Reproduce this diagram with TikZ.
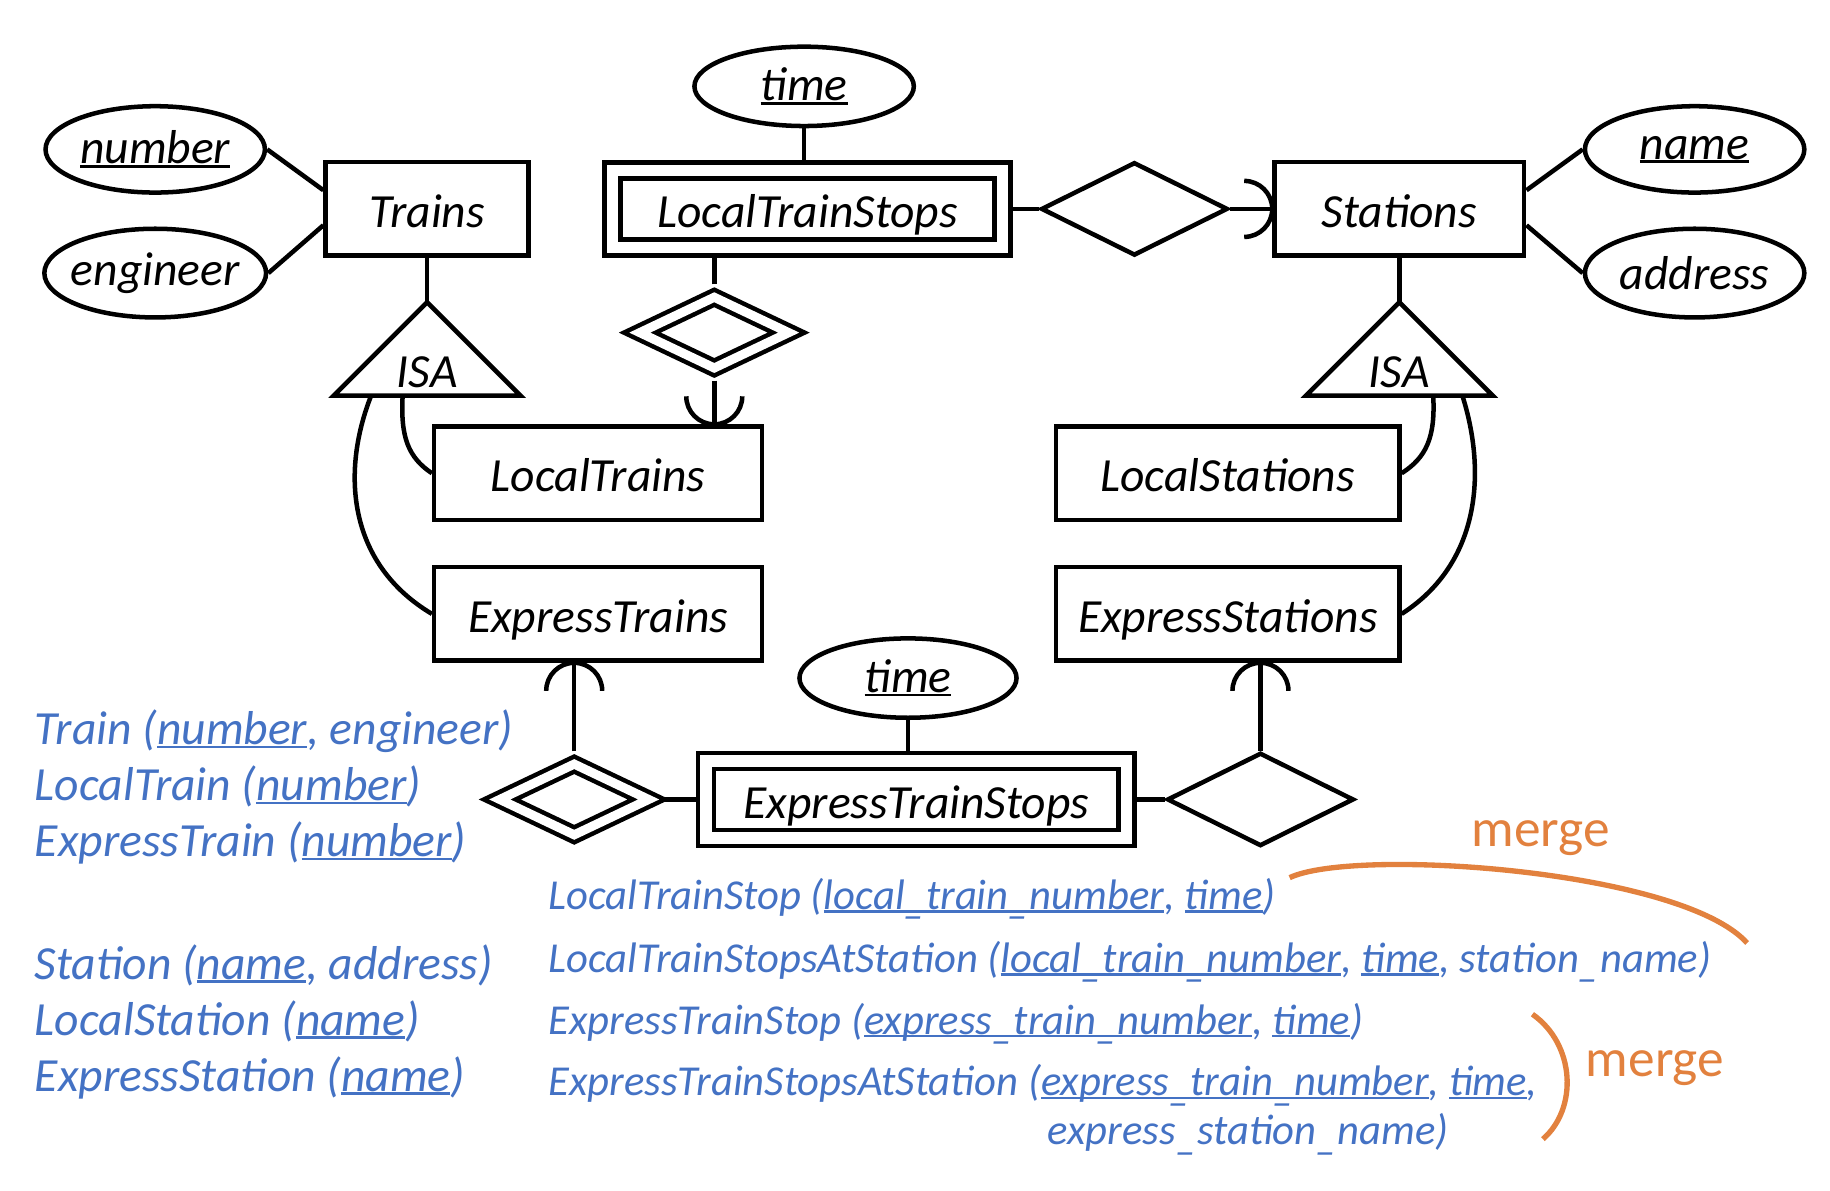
\documentclass[tikz,border=0pt]{standalone}
\usepackage{fontspec}
\setmainfont{Carlito}
\usetikzlibrary{shapes.geometric, calc}
\definecolor{relblue}{RGB}{68,114,196}
\definecolor{mergeorange}{RGB}{226,129,62}
\newcommand{\keyattr}[1]{\setbox0=\hbox{#1}\rlap{\rule[-0.08em]{\wd0}{0.055em}}\box0}
\newcommand{\lowbar}{\raisebox{-0.1em}{\_}}

\begin{document}
\begin{tikzpicture}[x=1mm,y=1mm,line width=1.1pt,
  erfont/.style={font=\fontsize{11.6}{14}\selectfont\itshape},
  entity/.style={draw,rectangle,erfont,text height=9.1pt,text depth=0pt,minimum height=8mm,inner sep=0pt},
  weakentity/.style={draw,rectangle,erfont,text height=9.1pt,text depth=0pt,double,double distance=2.8pt,minimum height=6.6mm,inner sep=0pt,outer sep=2.5pt},
  attribute/.style={draw,ellipse,erfont,minimum width=18.8mm,minimum height=7.4mm,inner xsep=-2.5mm,inner ysep=0pt},
  relation/.style={draw,diamond,minimum width=16mm,minimum height=8mm,inner sep=0pt},
  weakrelation/.style={draw,diamond,double,double distance=2.2pt,minimum width=13.4mm,minimum height=6.7mm,inner sep=0pt,outer sep=2.2pt},
  schema/.style={anchor=base west,inner sep=0pt,text=relblue,font=\fontsize{11.6}{13}\selectfont\itshape},
  stopschema/.style={anchor=base west,inner sep=0pt,text=relblue,font=\fontsize{10.4}{12}\selectfont\itshape},
  mergelabel/.style={text=mergeorange,font=\fontsize{13}{15}\selectfont}
]
\useasboundingbox (0,0) rectangle (156.8,-102);

% trains
\node[attribute] (number) at (13.3,-12.8) {\keyattr{number}};
\node[attribute,minimum width=19mm,minimum height=7.6mm] (engineer) at (13.3,-23.4) {engineer};
\node[entity,minimum width=17.4mm] (trains) at (36.6,-17.9) {Trains};
\draw (number.east) -- ([yshift=1.6mm]trains.west);
\draw (engineer.east) -- ([yshift=-1.4mm]trains.west);

% local train stops
\node[attribute,minimum height=6.8mm] (ltime) at (68.9,-7.4) {\keyattr{time}};
\node[weakentity,minimum width=33.4mm] (lts) at (69.2,-17.9) {LocalTrainStops};
\node[relation] (strel) at (97.2,-17.9) {};
\draw (ltime.south) -- (ltime.south |- lts.north);
\draw (lts.east) -- (strel.west);

% stations
\node[entity,minimum width=21.4mm] (stations) at (119.9,-17.9) {Stations};
\node[attribute] (sname) at (145.2,-12.8) {\keyattr{name}};
\node[attribute,minimum height=7.6mm] (saddr) at (145.2,-23.4) {address};
\draw ([yshift=1.6mm]stations.east) -- (sname.west);
\draw ([yshift=-1.4mm]stations.east) -- (saddr.west);
\draw (strel.east) -- (stations.west);
\draw ($(stations.west)+(-2.4,2.4)$) arc[start angle=90,end angle=-90,radius=2.4mm];

% ISA
\coordinate (isat) at (36.6,-25.9);
\coordinate (isas) at (119.9,-25.9);
\draw (isat) -- ++(-8,-8) -- ++(16,0) -- cycle;
\draw (isas) -- ++(-8,-8) -- ++(16,0) -- cycle;
\node[erfont] (isattext) at (36.6,-31.9) {ISA};
\node[erfont] (isastext) at (119.9,-31.9) {ISA};
\draw (trains.south) -- (isat);
\draw (stations.south) -- (isas);

\node[entity,minimum width=28.1mm] (localtrains) at (51.25,-40.55) {LocalTrains};
\node[entity,minimum width=28.1mm] (expresstrains) at (51.25,-52.6) {ExpressTrains};
\node[entity,minimum width=29.4mm] (localstations) at (105.2,-40.55) {LocalStations};
\node[entity,minimum width=29.4mm] (expressstations) at (105.2,-52.6) {ExpressStations};

\coordinate (isatin) at (34.5,-33.9);
\coordinate (isatout) at (31.8,-33.9);
\coordinate (isasin) at (122.8,-33.9);
\coordinate (isasout) at (125.3,-33.9);
\draw (isatin) .. controls (34.3,-37.5) and (35.0,-39.2) .. (localtrains.west);
\draw (isatout) .. controls (29.2,-40.5) and (29.8,-48.3) .. (expresstrains.west);
\draw (isasin) .. controls (123.0,-37.5) and (122.2,-39.2) .. (localstations.east);
\draw (isasout) .. controls (127.4,-40.5) and (126.8,-48.3) .. (expressstations.east);

% local train stops -- local trains
\node[weakrelation] (lrel) at (61.2,-28.5) {};
\draw (lrel.north) -- (lrel.north |- lts.south);
\draw (lrel.south) -- (lrel.south |- localtrains.north);
\draw ($(lrel.south |- localtrains.north)+(-2.4,2.4)$) arc[start angle=180,end angle=360,radius=2.4mm];

% express train stops
\node[attribute,minimum width=18.6mm,minimum height=6.8mm] (etime) at (77.8,-58.1) {\keyattr{time}};
\node[weakentity,minimum width=36.0mm] (ets) at (78.5,-68.5) {ExpressTrainStops};
\node[weakrelation] (erel) at (49.2,-68.5) {};
\node[relation] (esrel) at (108.0,-68.5) {};
\draw (etime.south) -- (etime.south |- ets.north);
\draw (erel.east) -- (ets.west);
\draw (ets.east) -- (esrel.west);
\draw (erel.north) -- (erel.north |- expresstrains.south);
\draw (esrel.north) -- (esrel.north |- expressstations.south);
\draw ($(erel.north |- expresstrains.south)+(-2.4,-2.4)$) arc[start angle=180,end angle=0,radius=2.4mm];
\draw ($(esrel.north |- expressstations.south)+(-2.4,-2.4)$) arc[start angle=180,end angle=0,radius=2.4mm];

% relations
\node[schema] (trainrel) at (2.8,-63.8) {Train (\keyattr{number}, engineer)};
\node[schema] (localtrainrel) at (2.8,-68.6) {LocalTrain (\keyattr{number})};
\node[schema] (expresstrainrel) at (2.8,-73.4) {ExpressTrain (\keyattr{number})};
\node[schema] (stationrel) at (2.8,-83.9) {Station (\keyattr{name}, address)};
\node[schema] (localstationrel) at (2.8,-88.7) {LocalStation (\keyattr{name})};
\node[schema] (expressstationrel) at (2.8,-93.5) {ExpressStation (\keyattr{name})};

\node[stopschema] (ltsrel) at (46.8,-77.9) {LocalTrainStop (\keyattr{local\lowbar train\lowbar number}, \keyattr{time})};
\node[stopschema] (ltsarel) at (46.8,-83.3) {LocalTrainStopsAtStation (\keyattr{local\lowbar train\lowbar number}, \keyattr{time}, station\lowbar name)};
\node[stopschema] (etsrel) at (46.8,-88.6) {ExpressTrainStop (\keyattr{express\lowbar train\lowbar number}, \keyattr{time})};
\node[stopschema] (etsarel) at (46.8,-93.9) {ExpressTrainStopsAtStation (\keyattr{express\lowbar train\lowbar number}, \keyattr{time},};
\node[stopschema] (etsarelb) at (89.6,-98.1) {express\lowbar station\lowbar name)};

% merge
\node[mergelabel] (mergea) at (132.0,-71.8) {merge};
\node[mergelabel] (mergeb) at (141.8,-91.5) {merge};
\draw[mergeorange,line width=1.3pt] (110.5,-75.2) .. controls (116,-72.6) and (144,-74.5) .. (149.7,-80.8);
\draw[mergeorange,line width=1.3pt] (131.3,-86.9) .. controls (135.0,-89.5) and (135.2,-95.0) .. (132.2,-97.6);
\end{tikzpicture}
\end{document}
